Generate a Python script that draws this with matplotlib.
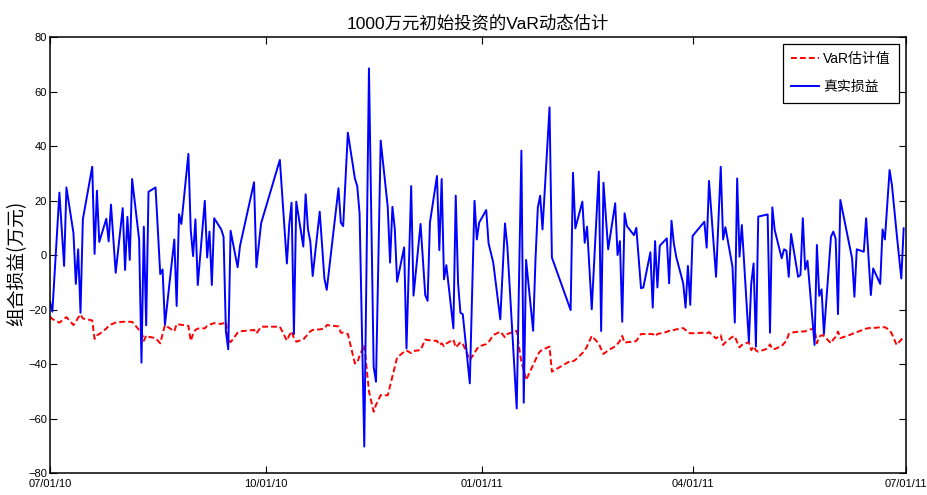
import datetime as dt
import matplotlib
matplotlib.use('Agg')
import matplotlib.pyplot as plt
import matplotlib.dates as mdates
from matplotlib import font_manager

# day offsets from 2010-07-01, real P&L (blue), VaR estimate (red), by segment
d1 = [0, 1, 4, 6, 7, 10, 11, 12, 13, 14, 18, 19, 20, 21, 24, 25, 26, 28, 31, 32,
      33, 34, 35, 38, 39, 40, 41, 42, 45, 47, 48, 49, 53, 54, 55, 56, 59, 60, 61]
p1 = [-17.1, -20.8, 22.9, -4.0, 24.8, 8.0, -10.6, 2.1, -21.2, 13.1, 32.4, 0.4, 23.6, 4.8, 13.3,
      5.0, 18.5, -6.5, 17.2, -5.5, 14.0, -1.8, 27.9, 5.7, -39.5, 10.4, -25.8, 23.2, 24.8, -7.0,
      -5.3, -25.6, 5.7, -18.7, 15.0, 11.4, 37.1, 9.2, -0.4]
v1 = [-22.6, -23.5, -24.8, -23.5, -22.8, -25.7, -24.5, -23.0, -21.8, -23.3, -24.0, -30.8, -29.5,
      -29.0, -27.0, -26.0, -25.5, -24.8, -24.5, -24.5, -24.5, -24.5, -24.5, -27.5, -28.0, -31.5,
      -29.5, -30.0, -30.5, -32.4, -29.0, -25.7, -28.0, -25.3, -25.5, -25.6, -26.0, -31.5, -29.0]

d2 = [62, 63, 66, 67, 68, 69, 70, 73, 74, 75, 76, 77, 80, 81, 87, 88, 90, 98, 101, 102,
      103, 104, 105, 108, 109, 110, 111, 112, 115, 117, 118, 123, 124]
p2 = [13.1, -11.0, 19.9, -0.9, 8.6, -11.0, 13.5, 9.4, 6.7, -28.1, -34.6, 8.9, -4.5, 3.3, 26.7,
      -4.5, 11.6, 34.9, -3.1, 11.0, 19.2, -29.0, 19.6, 3.1, 22.3, 9.4, 4.9, -7.7, 15.9, -8.6,
      -12.8, 24.5, 11.9]
v2 = [-27.5, -27.0, -26.9, -26.0, -25.5, -25.3, -25.0, -25.3, -25.0, -24.5, -31.0, -32.0, -28.5,
      -28.0, -27.5, -28.8, -26.3, -26.3, -31.4, -29.5, -28.0, -30.5, -31.8, -31.0, -30.0, -29.0,
      -28.0, -27.5, -27.3, -27.0, -25.7, -26.2, -28.5]

d3 = [125, 127, 130, 131, 132, 134, 136, 138, 139, 141, 144, 145, 146, 147, 148, 151, 152, 154,
      155, 158, 160, 161, 162, 165, 166, 167, 168, 169, 172, 173, 174, 175, 176, 179, 181, 182, 183]
p3 = [10.6, 44.9, 28.1, 25.3, 15.3, -70.3, 68.5, -41.0, -46.5, 42.0, 17.7, -2.8, 17.7, 9.8, -9.8,
      2.8, -34.3, 25.3, -14.9, 11.4, -14.7, -16.8, 11.9, 29.0, 1.8, 27.9, -8.9, -3.7, -26.9, 21.8,
      -10.4, -21.2, -21.7, -47.1, 19.9, 5.7, 11.9]
v3 = [-28.5, -29.0, -39.8, -39.5, -37.0, -33.0, -50.0, -57.5, -55.0, -51.4, -51.5, -48.0, -44.6,
      -41.0, -37.6, -35.5, -35.0, -36.0, -35.2, -34.9, -31.0, -31.2, -31.3, -31.5, -33.0, -32.4,
      -33.5, -32.5, -31.0, -33.9, -33.0, -32.0, -32.5, -38.5, -36.0, -34.5, -33.5]

d4 = [186, 187, 189, 192, 194, 195, 199, 201, 202, 203, 206, 207, 208, 209, 210, 213, 214, 222,
      223, 224, 227, 228, 229, 231, 234, 235, 236, 238, 241, 242, 243, 244, 245, 246]
p4 = [16.5, 4.3, -2.8, -23.6, 11.6, 3.3, -56.3, 38.3, -54.2, -1.8, -27.8, -1.8, 17.4, 21.8, 9.4,
      54.2, -0.9, -20.2, 30.2, 9.8, 19.6, 4.5, 10.4, -19.9, 30.6, -27.9, 26.5, 2.1, 19.0, 0.0,
      5.1, -24.5, 15.3, 10.6]
v4 = [-32.7, -32.0, -29.4, -28.1, -30.2, -29.0, -27.8, -39.5, -42.0, -45.9, -40.4, -38.5, -36.5,
      -35.3, -34.8, -33.6, -42.8, -38.8, -39.0, -38.5, -36.0, -35.0, -33.5, -29.7, -32.5, -34.5,
      -36.3, -35.0, -33.5, -32.6, -31.5, -29.7, -32.2, -32.0]

d5 = [249, 250, 252, 253, 256, 257, 258, 259, 260, 263, 264, 265, 266, 267, 270, 271, 272, 273,
      274, 279, 280, 281, 284, 286, 287, 288, 291, 292, 293, 294, 295, 298, 299, 300, 301, 302,
      306, 307, 308]
p5 = [7.3, 10.0, -12.2, -11.9, 1.0, -19.3, 5.1, -11.9, 3.4, 6.1, -10.4, 12.6, 4.3, -0.6, -10.4,
      -19.3, -4.0, -18.3, 7.0, 12.2, 2.7, 27.2, -8.0, 32.4, 5.7, 10.2, -4.3, -24.8, 28.1, -0.6,
      11.0, -31.8, -10.6, -3.1, -33.6, 14.1, 14.9, -28.5, 17.5]
v5 = [-31.8, -31.5, -29.0, -29.0, -29.0, -29.0, -29.8, -29.0, -28.8, -28.2, -27.8, -27.8, -27.5,
      -27.3, -26.8, -27.5, -28.5, -28.7, -28.7, -28.5, -28.7, -28.3, -30.6, -29.4, -33.0, -32.0,
      -30.0, -29.8, -32.0, -33.9, -33.0, -32.0, -34.9, -33.5, -35.0, -35.5, -34.3, -32.8, -34.5]

d6 = [309, 312, 313, 314, 315, 316, 319, 320, 321, 322, 323, 326, 327, 328, 329, 330, 333, 334,
      335, 336, 337, 342, 343, 344, 347, 348, 350, 351, 354, 355, 356, 358, 359, 361, 363, 364]
p6 = [9.2, -1.2, 2.1, 1.6, -8.0, 7.7, -8.0, -7.3, 13.5, -5.3, -2.1, -33.0, 3.7, -15.0, -12.6,
      -29.0, 6.7, 8.6, 6.0, -21.7, 20.2, -1.2, -15.3, 2.1, 1.2, 13.5, -14.7, -4.9, -10.6, 9.4,
      5.7, 31.2, 25.7, 8.0, -8.6, 9.8]
v6 = [-34.5, -33.4, -32.4, -31.5, -29.0, -28.5, -28.1, -28.0, -28.1, -28.0, -27.5, -27.0, -32.4,
      -30.0, -29.4, -29.7, -32.4, -31.0, -30.0, -28.1, -30.5, -29.0, -28.5, -28.3, -27.3, -27.0,
      -26.7, -26.8, -26.5, -26.5, -26.5, -27.5, -29.0, -33.0, -31.0, -30.0]

tick_dates = ['2010-07-01', '2010-10-01', '2011-01-01', '2011-04-01', '2011-07-01']

days = d1 + d2 + d3 + d4 + d5 + d6
pnl = p1 + p2 + p3 + p4 + p5 + p6
var = v1 + v2 + v3 + v4 + v5 + v6

start = dt.datetime(2010, 7, 1)
dates = [start + dt.timedelta(days=d) for d in days]
ticks = [dt.datetime.strptime(t, '%Y-%m-%d') for t in tick_dates]


def has_font(name):
    try:
        font_manager.findfont(name, fallback_to_default=False)
        return True
    except Exception:
        return False


# MATLAB draws its ticks in a narrow sans; use one if the box has it
if has_font('Liberation Sans Narrow'):
    tick_fam, tick_size = 'Liberation Sans Narrow', 9
else:
    tick_fam, tick_size = 'Liberation Sans', 8

cjk = ['Noto Sans CJK SC', 'DejaVu Sans']
title_fam = [tick_fam, 'Noto Sans CJK SC', 'DejaVu Sans']

fig = plt.figure(figsize=(9.28, 4.95), dpi=100)
ax = fig.add_axes([0.0539, 0.0444, 0.9224, 0.8808])

ax.plot(dates, var, color='red', lw=1.4, ls=(0, (3, 1.6)), label='VaR估计值')
ax.plot(dates, pnl, color='blue', lw=1.4, label='真实损益')

ax.set_xlim(ticks[0], ticks[-1])
ax.set_ylim(-80, 80)
ax.set_yticks(range(-80, 81, 20))
ax.set_xticks(ticks)
ax.xaxis.set_major_formatter(mdates.DateFormatter('%m/%d/%y'))

ax.tick_params(direction='in', length=5, width=0.8, top=True, right=True,
               labelsize=tick_size, pad=2)
ax.tick_params(axis='x', pad=4)
for lab in ax.get_xticklabels() + ax.get_yticklabels():
    lab.set_family(tick_fam)
for s in ax.spines.values():
    s.set_linewidth(1.1)

ax.set_title('1000万元初始投资的VaR动态估计', fontsize=12.5, family=title_fam, pad=6)
ax.set_ylabel('组合损益(万元)', fontsize=13.5, family=cjk)
ax.yaxis.set_label_coords(-0.027, 0.48)

leg = ax.legend(loc='upper right', prop={'family': title_fam, 'size': 10},
                fancybox=False, edgecolor='black', framealpha=1,
                handlelength=2.0, handletextpad=0.3, borderaxespad=0.5,
                borderpad=0.6, labelspacing=1.0)
leg.get_frame().set_linewidth(0.9)

fig.savefig('out.png', dpi=100)
